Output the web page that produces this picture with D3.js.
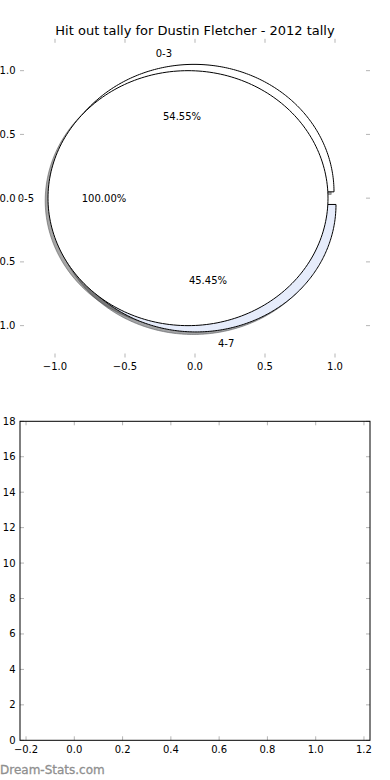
<!DOCTYPE html>
<html lang="en">
<head>
<meta charset="utf-8">
<title>Hit out tally</title>
<script src="https://d3js.org/d3.v7.min.js"></script>
<style>
  body { margin: 0; background: #fff; }
  svg { display: block; }
  text { font-family: "DejaVu Sans", sans-serif; fill: #000; }
  .tick-mark { stroke: #b5b5b5; stroke-width: 1; }
  .tick-label { font-size: 10px; }
  .frame { fill: none; stroke: #000; stroke-width: 1; }
</style>
</head>
<body>
<svg id="vis" width="390" height="780"></svg>
<script>
// ---- data ----
var title = "Hit out tally for Dustin Fletcher - 2012 tally";
var outerLabels = ["0-3", "4-7"];
var outerValues = [6, 5];
var innerLabels = ["0-5"];
var innerValues = [11];
var pieTicks = [-1.0, -0.5, 0.0, 0.5, 1.0];
var barXTicks = [-0.2, 0.0, 0.2, 0.4, 0.6, 0.8, 1.0, 1.2];
var barYTicks = [0, 2, 4, 6, 8, 10, 12, 14, 16, 18];

// ---- styles ----
var outerColors = ["#ffffff", "#e6ecfb"];
var innerColors = ["#ffffff"];
var explode = 0.05, labelDist = 1.1, pctDist = 0.6;

var svg = d3.select("#vis");

// top axes (pie), frame off
var px = d3.scaleLinear().domain([-1.25, 1.25]).range([20, 370]);
var py = d3.scaleLinear().domain([-1.25, 1.25]).range([357.5, 38.8]);

// bottom axes (empty)
var bx = d3.scaleLinear().domain([-0.225, 1.225]).range([20, 370]);
var by = d3.scaleLinear().domain([0, 18]).range([740.3, 421.3]);

svg.append("text")
    .attr("x", 195).attr("y", 30)
    .attr("text-anchor", "middle")
    .attr("dominant-baseline", "central")
    .style("font-size", "13px")
    .text(title);

function fmt(v) { return d3.format(".1f")(v).replace("-", "\u2212"); }

function drawTicks(g, xs, ys, xticks, yticks, xfmt, yfmt) {
  var x0 = xs.range()[0], x1 = xs.range()[1];
  var y0 = ys.range()[0], y1 = ys.range()[1];
  xticks.forEach(function(t) {
    var x = xs(t);
    g.append("line").attr("class", "tick-mark").attr("x1", x).attr("x2", x).attr("y1", y0).attr("y2", y0 - 4);
    g.append("line").attr("class", "tick-mark").attr("x1", x).attr("x2", x).attr("y1", y1).attr("y2", y1 + 4);
    g.append("text").attr("class", "tick-label")
        .attr("x", x).attr("y", y0 + 9)
        .attr("text-anchor", "middle").attr("dominant-baseline", "central")
        .text(xfmt(t));
  });
  yticks.forEach(function(t) {
    var y = ys(t);
    g.append("line").attr("class", "tick-mark").attr("x1", x0).attr("x2", x0 + 4).attr("y1", y).attr("y2", y);
    g.append("line").attr("class", "tick-mark").attr("x1", x1).attr("x2", x1 - 4).attr("y1", y).attr("y2", y);
    g.append("text").attr("class", "tick-label")
        .attr("x", x0 - 4.5).attr("y", y)
        .attr("text-anchor", "end").attr("dominant-baseline", "central")
        .text(yfmt(t));
  });
}

// ---- pie ----
var pie = d3.pie().sort(null).startAngle(0).endAngle(2 * Math.PI);

function wedges(values, labels, colors) {
  var total = d3.sum(values);
  return pie(values).map(function(d, i) {
    var mid = (d.startAngle + d.endAngle) / 2;
    return {
      t1: d.startAngle, t2: d.endAngle, mid: mid,
      cx: explode * Math.cos(mid), cy: explode * Math.sin(mid),
      label: labels[i], color: colors[i],
      pct: d3.format(".2f")(100 * d.value / total) + "%",
      full: (d.endAngle - d.startAngle) >= 2 * Math.PI - 1e-9
    };
  });
}

var line = d3.line().x(function(p) { return px(p[0]); }).y(function(p) { return py(p[1]); });

function wedgePath(w, ox, oy) {
  var pts = [];
  var n = 240;
  if (!w.full) pts.push([w.cx + ox, w.cy + oy]);
  for (var k = 0; k <= n; k++) {
    var a = w.t1 + (w.t2 - w.t1) * k / n;
    pts.push([w.cx + ox + Math.cos(a), w.cy + oy + Math.sin(a)]);
  }
  return line(pts) + "Z";
}

var outer = wedges(outerValues, outerLabels, outerColors);
var inner = wedges(innerValues, innerLabels, innerColors);
var all = outer.concat(inner);

var gp = svg.append("g");

// shadows (below all wedges)
gp.selectAll("path.shadow").data(all).enter().append("path")
    .attr("class", "shadow")
    .attr("d", function(w) { return wedgePath(w, -0.02, -0.02); })
    .each(function(w) {
      var c = d3.rgb(w.color);
      var s = "rgb(" + Math.round(c.r * 0.3) + "," + Math.round(c.g * 0.3) + "," + Math.round(c.b * 0.3) + ")";
      d3.select(this).attr("fill", s).attr("stroke", s).attr("fill-opacity", 0.5).attr("stroke-opacity", 0.5);
    });

gp.selectAll("path.wedge").data(all).enter().append("path")
    .attr("class", "wedge")
    .attr("d", function(w) { return wedgePath(w, 0, 0); })
    .attr("fill", function(w) { return w.color; })
    .attr("stroke", "#000")
    .attr("stroke-width", 1)
    .attr("stroke-linejoin", "miter");

// labels
all.forEach(function(w) {
  var lx = (explode + labelDist) * Math.cos(w.mid);
  var ly = (explode + labelDist) * Math.sin(w.mid);
  gp.append("text").attr("class", "tick-label")
      .attr("x", px(lx)).attr("y", py(ly))
      .attr("text-anchor", lx > 0 ? "start" : "end")
      .attr("dominant-baseline", "central")
      .text(w.label);
  var tx = (explode + pctDist) * Math.cos(w.mid);
  var ty = (explode + pctDist) * Math.sin(w.mid);
  gp.append("text").attr("class", "tick-label")
      .attr("x", px(tx)).attr("y", py(ty))
      .attr("text-anchor", "middle")
      .attr("dominant-baseline", "central")
      .text(w.pct);
});

drawTicks(svg.append("g"), px, py, pieTicks, pieTicks, fmt, fmt);

// ---- bottom axes ----
var gb = svg.append("g");
drawTicks(gb, bx, by, barXTicks, barYTicks, fmt, function(v) { return String(v); });
gb.append("rect").attr("class", "frame")
    .attr("x", bx.range()[0]).attr("y", by.range()[1])
    .attr("width", bx.range()[1] - bx.range()[0])
    .attr("height", by.range()[0] - by.range()[1]);

// watermark
svg.append("text")
    .attr("x", 0).attr("y", 770)
    .attr("dominant-baseline", "central")
    .style("font-size", "12px")
    .style("fill", "#8f8f8f")
    .style("stroke", "#8f8f8f").style("stroke-width", 0.3)
    .text("Dream-Stats.com");
</script>
</body>
</html>
